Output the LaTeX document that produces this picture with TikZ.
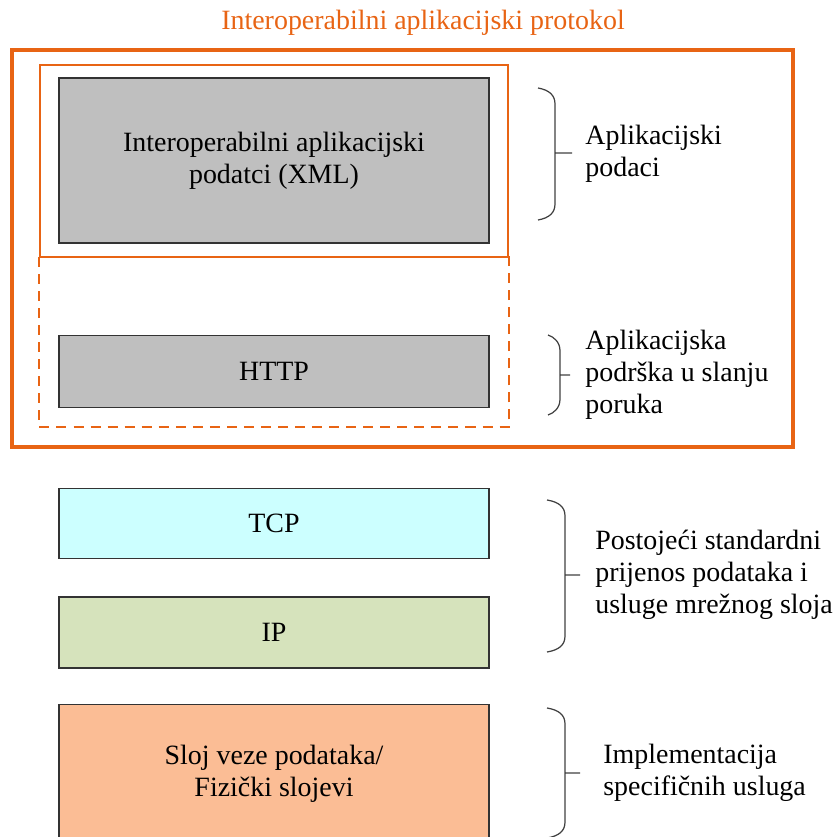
\documentclass[tikz,border=0pt]{standalone}
\usepackage{fontspec}
\setmainfont{Liberation Serif}
\usetikzlibrary{positioning}

\definecolor{narancasta}{RGB}{232,100,20}
\definecolor{siva}{RGB}{191,191,191}
\definecolor{tcpplava}{RGB}{204,255,255}
\definecolor{ipzelena}{RGB}{214,227,188}
\definecolor{fizicka}{RGB}{251,189,149}
\definecolor{zagrada}{RGB}{64,64,64}

\begin{document}
\begin{tikzpicture}[x=0.02cm,y=-0.02cm,font=\fontsize{15.9}{18.2}\selectfont,
		sloj/.style={draw=black!80,line width=0.7pt,minimum width=8.6cm,align=center,inner sep=0pt},
		opis/.style={anchor=west,align=left,inner sep=0pt},
		zagr/.style={draw=zagrada,line width=0.7pt}]
									\clip (0,0) rectangle (834,837);
									
									\node[text=narancasta] (naslov) at (423,23) {Interoperabilni aplikacijski protokol};
									
									% slojevi protokola
           							\node[sloj,fill=siva,minimum height=3.3cm] (xml) at (274,160.5) {Interoperabilni aplikacijski\\podatci (XML)};
           							\node[sloj,fill=siva,minimum height=1.44cm,below=1.82cm of xml] (http) {HTTP};
           							\node[sloj,fill=tcpplava,minimum height=1.4cm,below=1.6cm of http] (tcp) {TCP};
           							\node[sloj,fill=ipzelena,minimum height=1.42cm,below=0.75cm of tcp] (ip) {IP};
           							\node[sloj,fill=fizicka,minimum height=2.76cm,below=0.71cm of ip] (fiz) {Sloj veze podataka/\\Fizički slojevi};
           							
           							% okviri
           							\draw[narancasta,line width=2.3pt] (12,50) rectangle (793,447);
           							\draw[narancasta,line width=0.75pt] (40,65) rectangle (508,257);
           							\draw[narancasta,line width=0.85pt,dash pattern=on 5.7pt off 4pt] (39,257) rectangle (509,427);
           							
           							% zagrade
           							\foreach \xa/\xb/\xc/\gor/\sred/\dol in
           								{538/555/572/88/153/220,548/560/570/335/375/415,547/565/580/500/575/652,547/565/580/708/773/838}
           								\draw[zagr] (\xa,\gor) .. controls (\xb-6,\gor+2) and (\xb,\gor+7) .. (\xb,\gor+16) -- (\xb,\dol-16)
           									.. controls (\xb,\dol-7) and (\xb-6,\dol-2) .. (\xa,\dol) (\xb,\sred) -- (\xc,\sred);
           							
           							\node[opis] (apdata) at (585,154) {Aplikacijski\\podaci};
           							\node[opis] (apsupp) at (585,375) {Aplikacijska\\podrška u slanju\\poruka};
           							\node[opis] (postojeci) at (595,575) {Postojeći standardni\\prijenos podataka i\\usluge mrežnog sloja};
           							\node[opis] (impl) at (603,773) {Implementacija\\specifičnih usluga};
           						\end{tikzpicture}
\end{document}
